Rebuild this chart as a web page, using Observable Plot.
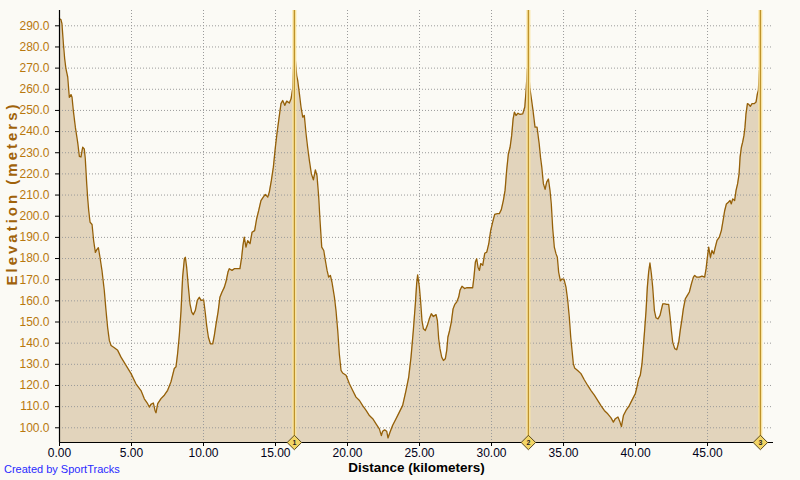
<!DOCTYPE html>
<html>
<head>
<meta charset="utf-8">
<script src="https://cdn.jsdelivr.net/npm/d3@7"></script>
<script src="https://cdn.jsdelivr.net/npm/@observablehq/plot@0.6"></script>
<style>
  html, body { margin: 0; padding: 0; background: #fbfaf5; }
  #wrap { position: relative; width: 800px; height: 480px; overflow: hidden; }
  #caption { position: absolute; left: 4px; top: 463px; font: 11px "Liberation Sans", Arial, sans-serif; color: #2a2aff; }
</style>
</head>
<body>
<div id="wrap">
  <div id="chart"></div>
  <div id="caption">Created by SportTracks</div>
</div>
<script>
const dist = [0.00,0.10,0.17,0.27,0.36,0.45,0.57,0.68,0.80,0.87,0.96,1.10,1.26,1.38,1.49,1.61,1.72,1.79,1.89,1.96,2.03,2.12,2.26,2.37,2.49,2.58,2.70,2.81,2.95,3.11,3.23,3.34,3.46,3.58,3.81,4.04,4.27,4.62,4.97,5.31,5.66,5.89,6.12,6.24,6.35,6.52,6.63,6.70,6.82,7.05,7.28,7.51,7.74,7.97,8.09,8.20,8.32,8.44,8.55,8.67,8.74,8.83,8.95,9.06,9.18,9.29,9.43,9.57,9.71,9.83,10.01,10.13,10.22,10.34,10.48,10.64,10.75,10.87,11.01,11.14,11.28,11.45,11.56,11.70,11.79,11.98,12.14,12.37,12.53,12.65,12.74,12.83,12.95,13.07,13.23,13.37,13.55,13.69,13.83,13.99,14.15,14.29,14.46,14.57,14.71,14.85,14.99,15.10,15.22,15.38,15.50,15.64,15.78,15.96,16.08,16.19,16.29,16.38,16.47,16.54,16.66,16.77,16.89,17.00,17.12,17.23,17.35,17.49,17.63,17.77,17.88,18.00,18.09,18.21,18.35,18.46,18.58,18.69,18.81,18.92,19.09,19.20,19.32,19.43,19.55,19.66,19.90,20.13,20.36,20.59,20.83,21.05,21.29,21.52,21.75,21.98,22.21,22.35,22.44,22.58,22.72,22.81,22.95,23.13,23.37,23.60,23.83,24.06,24.25,24.41,24.57,24.71,24.80,24.87,24.99,25.08,25.17,25.27,25.40,25.54,25.68,25.82,25.96,26.15,26.24,26.33,26.42,26.54,26.66,26.79,26.89,26.97,27.09,27.21,27.33,27.45,27.58,27.72,27.81,27.95,28.13,28.27,28.50,28.69,28.78,28.88,28.97,29.06,29.16,29.25,29.39,29.53,29.67,29.81,29.94,30.08,30.22,30.41,30.54,30.68,30.82,30.94,31.05,31.17,31.29,31.40,31.50,31.59,31.70,31.84,31.98,32.17,32.31,32.40,32.49,32.56,32.65,32.77,32.88,33.02,33.16,33.31,33.40,33.49,33.60,33.72,33.83,33.95,34.06,34.15,34.25,34.36,34.48,34.57,34.66,34.78,34.90,35.03,35.17,35.29,35.40,35.50,35.59,35.68,35.77,35.98,36.21,36.44,36.68,36.91,37.14,37.37,37.60,37.83,38.07,38.30,38.46,38.60,38.78,38.92,39.02,39.16,39.34,39.57,39.81,39.99,40.10,40.22,40.33,40.45,40.54,40.63,40.73,40.82,40.91,41.00,41.10,41.19,41.31,41.42,41.56,41.70,41.89,42.03,42.17,42.30,42.40,42.49,42.58,42.72,42.86,43.00,43.12,43.21,43.32,43.46,43.60,43.74,43.88,44.02,44.11,44.25,44.43,44.62,44.80,44.90,44.99,45.08,45.20,45.31,45.43,45.54,45.66,45.82,45.96,46.10,46.19,46.31,46.45,46.56,46.65,46.75,46.88,46.98,47.09,47.19,47.26,47.35,47.44,47.53,47.60,47.67,47.77,47.86,47.97,48.09,48.25,48.37,48.46,48.53,48.60,48.67];
const elev = [293.3,292.9,291.0,281.5,274.4,269.6,265.8,256.2,257.5,256.2,249.9,242.1,235.0,228.3,228.0,232.6,231.8,227.2,215.3,208.2,202.6,197.2,196.1,188.5,182.9,184.1,185.1,180.6,174.3,164.9,155.4,147.5,141.3,138.9,137.8,136.6,133.4,129.5,125.6,120.8,117.6,113.7,111.4,109.8,111.1,111.7,108.2,107.1,111.4,113.8,115.4,117.7,121.7,128.0,128.8,135.0,143.6,155.4,171.2,179.8,180.6,175.8,166.5,158.6,154.7,153.5,155.4,160.2,161.7,160.2,160.5,153.9,148.3,142.8,139.7,139.7,143.6,149.0,154.7,161.7,164.1,166.5,169.0,173.6,175.2,174.4,175.2,175.2,175.2,180.6,186.2,190.1,185.4,188.5,187.0,192.4,193.2,198.8,202.6,207.4,209.0,210.3,209.0,211.4,216.8,223.2,232.6,239.0,245.2,253.2,254.7,252.4,254.4,253.5,255.5,260.2,276.8,273.6,266.5,264.2,257.8,251.6,246.8,247.6,239.0,232.6,226.4,220.0,217.2,221.9,219.2,209.0,198.0,185.4,183.8,179.1,174.4,171.2,172.0,168.8,161.8,155.4,146.0,135.0,127.1,125.9,124.8,120.8,117.6,114.5,112.9,110.5,108.2,105.8,104.3,101.9,99.5,96.3,98.4,99.0,98.4,95.2,97.9,101.1,104.3,107.4,110.6,117.6,124.0,133.4,146.0,158.6,168.0,172.3,166.5,159.4,150.7,146.8,146.0,148.3,151.5,153.9,152.6,153.5,150.7,142.1,137.4,133.4,131.8,132.6,136.6,142.8,146.0,150.0,156.2,158.3,159.4,161.8,165.0,166.9,165.8,166.2,166.2,166.2,171.2,178.4,179.9,175.9,174.4,177.6,176.8,182.5,183.0,187.0,193.2,197.2,200.9,201.2,201.2,203.1,207.4,212.2,221.6,229.5,232.6,238.2,246.0,249.2,247.6,248.7,248.1,248.4,251.6,259.4,269.7,270.8,261.0,255.5,250.0,242.1,242.1,234.2,227.9,223.2,215.4,212.7,216.1,217.6,212.2,205.8,194.0,185.4,182.2,180.6,173.6,169.5,170.3,170.3,166.5,160.2,152.3,142.8,136.6,130.3,128.3,127.1,125.6,122.7,120.0,117.6,115.4,113.0,110.5,108.2,106.6,104.7,102.7,104.3,105.1,102.7,100.6,105.8,108.2,110.5,113.8,116.2,119.3,123.2,124.8,130.3,138.2,146.0,155.4,166.5,173.6,177.9,172.8,166.5,155.4,152.0,151.5,153.1,158.6,158.6,158.3,158.3,152.3,146.0,140.5,137.4,136.9,140.5,146.8,150.7,156.2,161.0,162.6,164.2,168.0,171.2,172.0,171.2,171.2,171.7,171.2,175.2,180.6,185.4,180.6,183.8,182.2,185.4,188.6,190.1,193.2,198.8,202.6,205.8,206.6,207.4,205.8,208.2,207.4,212.2,215.4,220.0,227.9,232.6,235.0,238.2,242.1,248.4,253.2,252.9,251.9,253.2,253.2,254.0,257.8,259.4,268.9,270.5];

const markerKm = [16.31, 32.56, 48.67];
const markerLabels = ["1", "2", "3"];

const xTicks = [0, 5, 10, 15, 20, 25, 30, 35, 40, 45];
const yTicks = [100, 110, 120, 130, 140, 150, 160, 170, 180, 190, 200, 210, 220, 230, 240, 250, 260, 270, 280, 290];
const xGrid = [5, 10, 15, 20, 25, 30, 35, 40, 45];

const X_MAX = 49.58;
const Y_MIN = 93.05;
const Y_MAX = 297.23;

const data = dist.map((d, i) => ({km: d, ele: elev[i]}));
const markers = markerKm.map((k, i) => ({km: k, label: markerLabels[i]}));

const chart = Plot.plot({
  width: 800,
  height: 480,
  marginLeft: 59,
  marginRight: 27,
  marginTop: 10,
  marginBottom: 38,
  style: {background: "#fbfaf5", fontFamily: "'Liberation Sans', Arial, sans-serif", fontSize: "12px"},
  x: {domain: [0, X_MAX]},
  y: {domain: [Y_MIN, Y_MAX]},
  marks: [
    Plot.areaY(data, {x: "km", y1: Y_MIN, y2: "ele", fill: "#e2d4bc"}),
    Plot.gridY(yTicks, {stroke: "#9a9a9a", strokeOpacity: 1, strokeDasharray: "1,2"}),
    Plot.gridX(xGrid, {stroke: "#9a9a9a", strokeOpacity: 1, strokeDasharray: "1,2"}),
    Plot.lineY(data, {x: "km", y: "ele", stroke: "#956008", strokeWidth: 1.3}),
    Plot.ruleX(markers, {x: "km", stroke: "#fbe6a2", strokeWidth: 4}),
    Plot.ruleX(markers, {x: "km", stroke: "#bd922c", strokeWidth: 1.3}),
    Plot.ruleX([0], {stroke: "#000", strokeWidth: 1.2}),
    Plot.ruleY([Y_MIN], {stroke: "#000", strokeWidth: 1.2}),
    Plot.dot(markers, {x: "km", y: Y_MIN, symbol: "diamond2", r: 6.5, fill: "#f3d565", stroke: "#5a4a20", strokeWidth: 1}),
    Plot.text(markers, {x: "km", y: Y_MIN, text: "label", fontSize: 7, fontWeight: "bold", fill: "#222"}),
    Plot.axisX({ticks: xTicks, tickFormat: d => d.toFixed(2), tickSize: 4, tickPadding: 2, label: null, fill: "#000018", stroke: "#000", fontSize: 12}),
    Plot.axisY({ticks: yTicks, tickFormat: d => d.toFixed(1), tickSize: 4, tickPadding: 6, label: null, fill: "#b8780e", stroke: "#000", fontSize: 12}),
    Plot.text(["Distance (kilometers)"], {frameAnchor: "bottom", dy: 29, fontWeight: "bold", fontSize: 13.5, fill: "#000"}),
    Plot.text(["Elevation (meters)"], {frameAnchor: "left", textAnchor: "start", rotate: -90, dx: -47, dy: 59, fontWeight: "bold", fontSize: 15, fill: "#a0620a"})
  ]
});
d3.select(chart).selectAll("text").filter(function() { return this.textContent === "Elevation (meters)"; })
  .attr("letter-spacing", "3px");
document.getElementById("chart").appendChild(chart);
</script>
</body>
</html>
